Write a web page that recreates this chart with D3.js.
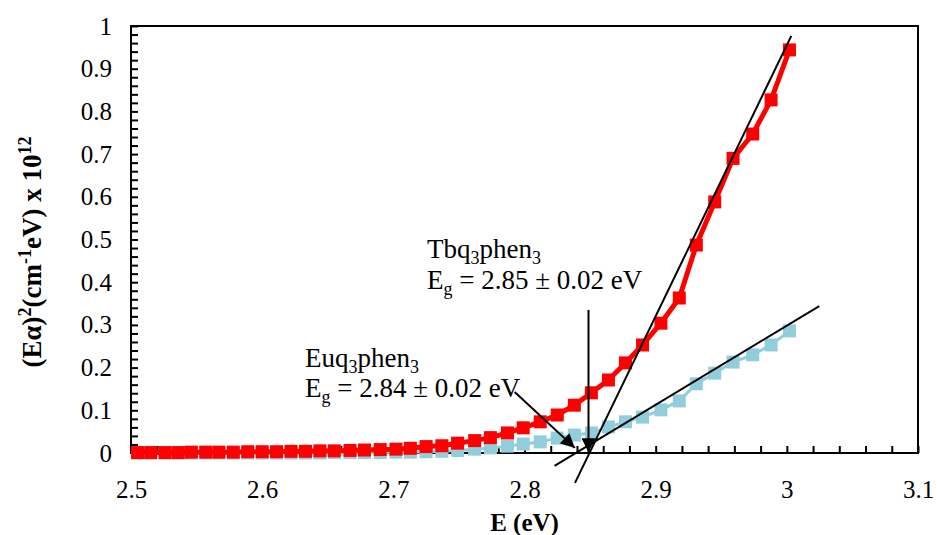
<!DOCTYPE html>
<html>
<head>
<meta charset="utf-8">
<script src="https://cdn.jsdelivr.net/npm/d3@7"></script>
<style>
body{margin:0;background:#fff;}
</style>
</head>
<body>
<svg id="chart" width="938" height="535"></svg>
<script>
//Photon energy E (eV) of each point, both samples share it.
var energy = [3.002, 2.988, 2.974, 2.959, 2.945, 2.931, 2.918, 2.904, 2.890, 2.877,
	2.864, 2.851, 2.838, 2.825, 2.812, 2.799, 2.787, 2.774, 2.762, 2.749,
	2.737, 2.725, 2.713, 2.702, 2.690, 2.678, 2.667, 2.655, 2.644, 2.633,
	2.622, 2.611, 2.600, 2.589, 2.578, 2.567, 2.557, 2.546, 2.536, 2.526,
	2.515, 2.505];

//(E alpha)^2 x 10^12 for Tbq3phen3 (red).
var tbqValues = [0.944, 0.827, 0.747, 0.690, 0.588, 0.487, 0.363, 0.304, 0.253, 0.211,
	0.171, 0.141, 0.112, 0.089, 0.073, 0.059, 0.047, 0.036, 0.029, 0.023,
	0.017, 0.015, 0.011, 0.009, 0.008, 0.007, 0.006, 0.005, 0.005, 0.004,
	0.004, 0.003, 0.003, 0.003, 0.002, 0.002, 0.002, 0.002, 0.001, 0.001,
	0.001, 0.001];

//(E alpha)^2 x 10^12 for Euq3phen3 (light blue).
var euqValues = [0.286, 0.253, 0.230, 0.213, 0.187, 0.162, 0.122, 0.101, 0.084, 0.073,
	0.061, 0.047, 0.042, 0.035, 0.026, 0.021, 0.016, 0.012, 0.009, 0.006,
	0.004, 0.003, 0.002, 0.002, 0.001, 0.001, 0.001, 0.001, 0.000, 0.000,
	0.000, 0.000, 0.000, 0.000, 0.000, 0.000, 0.000, 0.000, 0.000, 0.000,
	0.000, 0.000];

//Tangent (fit) lines, two end points each.
var tbqFitE = [2.8385, 3.0034], tbqFitV = [-0.070, 0.977];
var euqFitE = [2.8229, 3.0247], euqFitV = [-0.030, 0.344];

//Arrows pointing at the gap energies.
var tbqArrowE = [2.8488, 2.8488], tbqArrowV = [0.335, 0.002];
var euqArrowE = [2.7925, 2.8384], euqArrowV = [0.143, 0.012];

//Axis ticks.
var xTicks = [2.5, 2.6, 2.7, 2.8, 2.9, 3.0, 3.1];
var yTicks = [0, 0.1, 0.2, 0.3, 0.4, 0.5, 0.6, 0.7, 0.8, 0.9, 1];

var serif = "'Liberation Serif', 'Times New Roman', Tinos, 'DejaVu Serif', serif";

var margin = {top: 26, right: 20, bottom: 82, left: 131};
var width = 938 - margin.left - margin.right;
var height = 535 - margin.top - margin.bottom;

var svg = d3.select("#chart").style("font-family", serif);
var g = svg.append("g").attr("transform", "translate(" + margin.left + "," + margin.top + ")");

var x = d3.scaleLinear().domain([2.5, 3.1]).range([0, width]);
var y = d3.scaleLinear().domain([0, 1]).range([height, 0]);

var defs = svg.append("defs");
defs.append("marker").attr("id", "arrowHead")
	.attr("viewBox", "0 0 10 10").attr("refX", 10).attr("refY", 5)
	.attr("markerUnits", "userSpaceOnUse")
	.attr("markerWidth", 15).attr("markerHeight", 14)
	.attr("orient", "auto")
	.append("path").attr("d", "M0,0 L10,5 L0,10 Z").attr("fill", "#000");

//Minor ticks every 0.02, inside the plot.
var xMinor = d3.range(0, 31).map(function(i){ return 2.5 + i * 0.02; });
var yMinor = d3.range(0, 51).map(function(i){ return i * 0.02; });

g.append("g").attr("transform", "translate(0," + height + ")")
	.call(d3.axisBottom(x).tickValues(xMinor).tickSize(-7).tickFormat(""))
	.call(function(s){ s.select(".domain").remove(); s.selectAll("line").attr("stroke-width", 2); });
g.append("g")
	.call(d3.axisLeft(y).tickValues(yMinor).tickSize(-7).tickFormat(""))
	.call(function(s){ s.select(".domain").remove(); s.selectAll("line").attr("stroke-width", 2); });

//Tick labels.
function styleLabels(s){
	s.select(".domain").remove();
	s.attr("font-family", null).attr("font-size", null);
	s.selectAll("text").style("font-family", serif).style("font-size", "25px").attr("fill", "#000");
}
g.append("g").attr("transform", "translate(0," + height + ")")
	.call(d3.axisBottom(x).tickValues(xTicks).tickSize(0).tickPadding(27)
		.tickFormat(function(d){ return String(+d.toFixed(2)); }))
	.call(styleLabels);
g.append("g")
	.call(d3.axisLeft(y).tickValues(yTicks).tickSize(0).tickPadding(19)
		.tickFormat(function(d){ return String(+d.toFixed(2)); }))
	.call(styleLabels);

//Plot frame.
g.append("rect").attr("x", 0).attr("y", 0).attr("width", width).attr("height", height)
	.attr("fill", "none").attr("stroke", "#000").attr("stroke-width", 2);

var tbqData = energy.map(function(e, i){ return {e: e, v: tbqValues[i]}; });
var euqData = energy.map(function(e, i){ return {e: e, v: euqValues[i]}; });

var line = d3.line().x(function(d){ return x(d.e); }).y(function(d){ return y(d.v); });
var sq = 13;

function drawSeries(data, color, lineWidth){
	g.append("path").datum(data).attr("d", line)
		.attr("fill", "none").attr("stroke", color).attr("stroke-width", lineWidth)
		.attr("stroke-linejoin", "round");
	g.append("g").selectAll("rect").data(data).enter().append("rect")
		.attr("x", function(d){ return x(d.e) - sq / 2; })
		.attr("y", function(d){ return y(d.v) - sq / 2; })
		.attr("width", sq).attr("height", sq)
		.attr("fill", color);
}

drawSeries(euqData, "#92CDDC", 3);
drawSeries(tbqData, "#FF0000", 5);

function pairs(es, vs){ return es.map(function(e, i){ return {e: e, v: vs[i]}; }); }

g.append("path").datum(pairs(tbqFitE, tbqFitV)).attr("d", line)
	.attr("stroke", "#000").attr("stroke-width", 2).attr("fill", "none");
g.append("path").datum(pairs(euqFitE, euqFitV)).attr("d", line)
	.attr("stroke", "#000").attr("stroke-width", 2).attr("fill", "none");
g.append("path").datum(pairs(tbqArrowE, tbqArrowV)).attr("d", line)
	.attr("stroke", "#000").attr("stroke-width", 2).attr("fill", "none")
	.attr("marker-end", "url(#arrowHead)");
g.append("path").datum(pairs(euqArrowE, euqArrowV)).attr("d", line)
	.attr("stroke", "#000").attr("stroke-width", 2).attr("fill", "none")
	.attr("marker-end", "url(#arrowHead)");

//Annotation text with sub scripts.
function label(px, py, parts){
	var t = svg.append("text").attr("x", px).attr("y", py)
		.style("font-family", serif).style("font-size", "27px");
	parts.forEach(function(p){
		var ts = t.append("tspan").text(p[0]);
		if (p[1] == "sub") ts.attr("dy", 6).style("font-size", "18px");
		if (p[1] == "back") ts.attr("dy", -6);
	});
}

label(427, 258, [["Tbq"], ["3", "sub"], ["phen", "back"], ["3", "sub"]]);
label(427, 289, [["E"], ["g", "sub"], [" = 2.85 \u00B1 0.02 eV", "back"]]);
label(305, 367, [["Euq"], ["3", "sub"], ["phen", "back"], ["3", "sub"]]);
label(305, 397, [["E"], ["g", "sub"], [" = 2.84 \u00B1 0.02 eV", "back"]]);

//Axis titles.
svg.append("text").attr("x", margin.left + width / 2).attr("y", 531)
	.attr("text-anchor", "middle")
	.style("font-family", serif).style("font-size", "25px").style("font-weight", "bold")
	.text("E (eV)");

var yt = svg.append("text").attr("transform", "translate(41,252) rotate(-90)")
	.attr("text-anchor", "middle")
	.style("font-family", serif).style("font-size", "27px").style("font-weight", "bold");
yt.append("tspan").text("(E\u03B1)");
yt.append("tspan").text("2").attr("dy", -10).style("font-size", "18px");
yt.append("tspan").text("(cm").attr("dy", 10);
yt.append("tspan").text("-1").attr("dy", -10).style("font-size", "18px");
yt.append("tspan").text("eV) x 10").attr("dy", 10);
yt.append("tspan").text("12").attr("dy", -10).style("font-size", "18px");
</script>
</body>
</html>
